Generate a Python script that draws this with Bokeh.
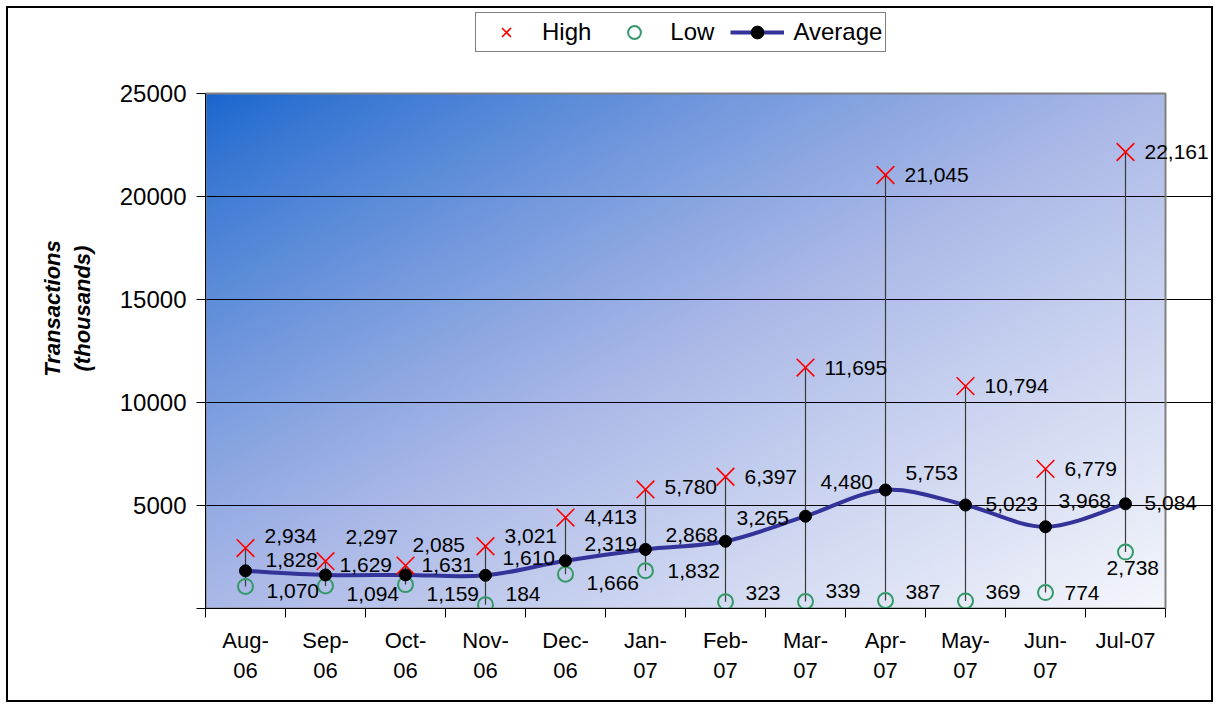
import numpy as np
from bokeh.plotting import figure
from bokeh.models import Range1d, FixedTicker, Legend, LegendItem, LinearAxis
from bokeh.core.properties import value
from bokeh.embed import file_html
from bokeh.resources import INLINE

# ---- data ----
months = ["Aug-\n06", "Sep-\n06", "Oct-\n06", "Nov-\n06", "Dec-\n06", "Jan-\n07",
          "Feb-\n07", "Mar-\n07", "Apr-\n07", "May-\n07", "Jun-\n07", "Jul-07"]
high = [2934, 2297, 2085, 3021, 4413, 5780, 6397, 11695, 21045, 10794, 6779, 22161]
low = [1070, 1094, 1159, 184, 1666, 1832, 323, 339, 387, 369, 774, 2738]
avg = [1828, 1629, 1631, 1610, 2319, 2868, 3265, 4480, 5753, 5023, 3968, 5084]
y_ticks = [0, 5000, 10000, 15000, 20000, 25000]
Y_MAX = 25000

# ---- label nudges (screen px, style only) ----
hi_dx = [19, 20, 7, 19, 19, 19, 19, 19, 19, 19, 19, 19]
hi_dy = [-12, -24, -21, -10, -1, -2, 0, 0, 0, 0, 0, 0]
av_dx = [20, 14, 16, 17, 19, 20, 11, 15, 20, 20, 13, 19]
av_dy = [-11, -10, -10, -17, -17, -14, -23, -34, -17, -1, -26, -1]
lo_dx = [21, 21, 21, 20, 21, 22, 20, 20, 20, 20, 19, -19]
lo_dy = [5, 8, 9, -11, 9, 0, -9, -11, -9, -9, 0, 16]

FONT = "Liberation Sans"
n = len(months)
xs = [i + 0.5 for i in range(n)]

W_PX, H_PX = 1207, 696
BL, BB = 197, 96
AREA_W, AREA_H = 960, 515          # plot-area size in px
frame_w, frame_h = W_PX - BL, H_PX - BB
x_end = n * frame_w / AREA_W
y_end = Y_MAX * frame_h / AREA_H

p = figure(width=W_PX, height=H_PX, output_backend="svg", toolbar_location=None,
           x_range=Range1d(0, x_end), y_range=Range1d(0, y_end),
           min_border_left=BL, min_border_right=0, min_border_top=0, min_border_bottom=BB)
p.styles = {"border": "2px solid black", "margin-left": "6px", "margin-top": "6px"}
p.background_fill_color = "white"
p.border_fill_color = "white"
p.outline_line_color = None

# gradient background of plot area
H, W = 258, 480
yy, xx = np.mgrid[0:H, 0:W]
u = (xx + 0.5) / W
v = 1 - (yy + 0.5) / H
t = (u + v) / 2
s = t ** 0.8
stops = [0, 0.57, 1]
cols = np.array([[22, 100, 205], [170, 184, 231], [245, 247, 252]], dtype=float)
img = np.empty((H, W), dtype=np.uint32)
view = img.view(dtype=np.uint8).reshape((H, W, 4))
for c in range(3):
    view[:, :, c] = np.interp(s, stops, cols[:, c]).astype(np.uint8)
view[:, :, 3] = 255
p.image_rgba(image=[img], x=0, y=0, dw=n, dh=Y_MAX, level="image")

# grid
p.xgrid.visible = False
p.ygrid.ticker = FixedTicker(ticks=[t_ for t_ in y_ticks if 0 < t_ < Y_MAX])
p.ygrid.grid_line_color = "#000000"
p.ygrid.grid_line_width = 1

# plot-area border
p.quad(left=0, right=n, bottom=0, top=Y_MAX, fill_color=None,
       line_color="#808080", line_width=2)

# high-low lines
p.segment(x0=xs, y0=high, x1=xs, y1=low, line_color="#3a3a3a", line_width=1.2)

# smooth average line (Catmull-Rom as Bezier)
bx0, by0, bx1, by1, bcx0, bcy0, bcx1, bcy1 = [], [], [], [], [], [], [], []
for i in range(n - 1):
    im, i2 = max(i - 1, 0), min(i + 2, n - 1)
    bx0.append(xs[i]); by0.append(avg[i])
    bx1.append(xs[i + 1]); by1.append(avg[i + 1])
    bcx0.append(xs[i] + (xs[i + 1] - xs[im]) / 6)
    bcy0.append(avg[i] + (avg[i + 1] - avg[im]) / 6)
    bcx1.append(xs[i + 1] - (xs[i2] - xs[i]) / 6)
    bcy1.append(avg[i + 1] - (avg[i2] - avg[i]) / 6)
r_curve = p.bezier(x0=bx0, y0=by0, x1=bx1, y1=by1, cx0=bcx0, cy0=bcy0, cx1=bcx1, cy1=bcy1,
                   line_color="#333399", line_width=4)

r_high = p.scatter(xs, high, marker="x", size=25, line_color="#ff0000", line_width=1.6)
r_low = p.scatter(xs, low, marker="circle", size=15, fill_color=None,
                  line_color="#339966", line_width=2)
r_avg = p.scatter(xs, avg, marker="circle", size=12, fill_color="black", line_color="black")

# data labels
lab_kw = dict(text_font=value(FONT), text_font_size="21px", text_color="black",
              text_align="left", text_baseline="middle")
p.text(xs, high, text=[f"{v:,}" for v in high], x_offset=hi_dx, y_offset=hi_dy, **lab_kw)
p.text(xs, avg, text=[f"{v:,}" for v in avg], x_offset=av_dx, y_offset=av_dy, **lab_kw)
p.text(xs, low, text=[f"{v:,}" for v in low], x_offset=lo_dx, y_offset=lo_dy, **lab_kw)

# y axis (ticks)
ya = p.yaxis[0]
ya.bounds = (0, Y_MAX)
ya.ticker = FixedTicker(ticks=y_ticks)
ya.major_label_overrides = {0: ""}
ya.major_label_text_font = FONT
ya.major_label_text_font_size = "24px"
ya.major_label_text_color = "black"
ya.major_tick_out = 9
ya.major_tick_in = 0
ya.minor_tick_out = 0
ya.minor_tick_in = 0
ya.major_label_standoff = 10
ya.axis_line_color = "black"
ya.major_tick_line_color = "black"

# y axis title (separate axis, no ticks)
ya2 = LinearAxis(ticker=FixedTicker(ticks=[]), axis_line_color=None,
                 major_tick_line_color=None, minor_tick_line_color=None,
                 axis_label="Transactions\n(thousands)")
ya2.axis_label_text_font = FONT
ya2.axis_label_text_font_style = "bold italic"
ya2.axis_label_text_font_size = "22px"
ya2.axis_label_text_color = "black"
ya2.axis_label_standoff = 22
p.add_layout(ya2, "left")

# x axis
xa = p.xaxis[0]
xa.bounds = (0, n)
xa.ticker = FixedTicker(ticks=xs, minor_ticks=list(range(n + 1)))
xa.major_label_overrides = {x: m for x, m in zip(xs, months)}
xa.major_label_text_font = FONT
xa.major_label_text_font_size = "22px"
xa.major_label_text_color = "black"
xa.major_tick_out = 0
xa.major_tick_in = 0
xa.minor_tick_out = 9
xa.minor_tick_in = 0
xa.minor_tick_line_color = "black"
xa.axis_line_color = "black"
xa.major_label_standoff = 10

legend = Legend(items=[LegendItem(label="High", renderers=[r_high]),
                       LegendItem(label="Low", renderers=[r_low]),
                       LegendItem(label="Average", renderers=[r_curve, r_avg])],
                orientation="horizontal", location=(270, 556),
                label_text_font=FONT, label_text_font_size="24px",
                label_text_color="black",
                border_line_color="black", border_line_width=1,
                background_fill_color="white", background_fill_alpha=1,
                glyph_width=54, glyph_height=32, label_standoff=9, spacing=16,
                padding=3, margin=0)
p.add_layout(legend, "center")

open("out.html", "w").write(file_html(p, INLINE))
